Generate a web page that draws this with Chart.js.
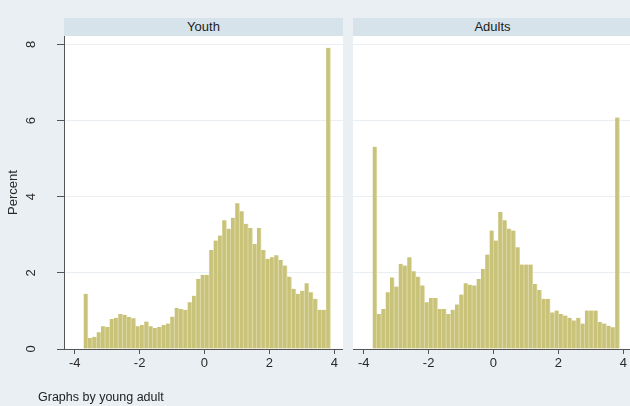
<!DOCTYPE html>
<html>
<head>
<meta charset="utf-8">
<script src="https://cdn.jsdelivr.net/npm/chart.js@4.4.1/dist/chart.umd.min.js"></script>
<style>
  html, body { margin: 0; padding: 0; }
  body {
    width: 630px; height: 406px; overflow: hidden; position: relative;
    background: #e9eff3;
    font-family: "Liberation Sans", Arial, sans-serif;
  }
  .strip {
    position: absolute; top: 18px; height: 18px; line-height: 18px;
    background: #d6e3ea; color: #1c1c1c; font-size: 13px; text-align: center;
  }
  canvas { position: absolute; top: 36px; }
  #youthChart { left: 0; }
  #adultChart { left: 353px; }
  .note {
    position: absolute; left: 38px; top: 390px; font-size: 12.5px;
    line-height: 15px; color: #222;
  }
</style>
</head>
<body>
<div class="strip" style="left:64px;width:279px">Youth</div>
<div class="strip" style="left:353px;width:279px">Adults</div>
<canvas id="youthChart" width="343" height="370"></canvas>
<canvas id="adultChart" width="279" height="370"></canvas>
<div class="note">Graphs by young adult</div>

<script>
// Histogram bins shared by both panels
const binStart = -3.725;
const binWidth = 0.1335;

// Percent of cases per bin, young people
const youthPct = [
  1.45, 0.29, 0.32, 0.44, 0.60, 0.58, 0.79, 0.82, 0.92, 0.90,
  0.84, 0.81, 0.60, 0.63, 0.72, 0.60, 0.55, 0.58, 0.63, 0.67,
  0.85, 1.08, 1.05, 1.03, 1.23, 1.40, 1.84, 1.95, 1.95, 2.60,
  2.85, 2.98, 3.38, 3.16, 3.45, 3.83, 3.62, 3.29, 3.18, 2.76,
  3.18, 2.60, 2.37, 2.41, 2.46, 2.34, 2.19, 1.90, 1.58, 1.45,
  1.53, 1.73, 1.49, 1.32, 1.03, 1.03, 7.91
];

// Percent of cases per bin, adults
const adultPct = [
  5.31, 0.92, 1.05, 1.49, 1.88, 1.64, 2.24, 2.19, 2.41, 2.04,
  1.90, 1.67, 1.23, 1.34, 1.34, 1.05, 1.05, 0.92, 1.03, 1.17,
  1.43, 1.73, 1.69, 1.67, 1.84, 2.10, 2.48, 3.11, 2.85, 3.60,
  3.38, 3.16, 3.11, 2.67, 2.22, 2.22, 2.22, 1.71, 1.55, 1.32,
  1.32, 0.96, 1.01, 0.92, 0.88, 0.82, 0.75, 0.82, 0.67, 1.01,
  1.01, 1.01, 0.71, 0.67, 0.61, 0.57, 6.08
];

const xTicks = [-4, -2, 0, 2, 4];
const yTicks = [0, 2, 4, 6, 8];
const xRange = [-4.33, 4.27];
const yRange = [0, 8.22];

const barFill = 'rgb(201,195,122)';
const barEdge = 'rgb(224,220,172)';
const gridColor = '#e8eef1';
const axisColor = '#555555';
const textColor = '#2a2a2a';
const fontFamily = '"Liberation Sans", Arial, sans-serif';

function toPoints(values) {
  return values.map((v, i) => ({ x: binStart + (i + 0.5) * binWidth, y: v }));
}

const plotBackground = {
  id: 'plotBackground',
  beforeDraw(chart) {
    const { ctx, chartArea: a } = chart;
    ctx.save();
    ctx.fillStyle = '#ffffff';
    ctx.fillRect(a.left, a.top, a.right - a.left, a.bottom - a.top);
    ctx.restore();
  }
};

function xScale() {
  return {
    type: 'linear',
    offset: false,
    min: xRange[0], max: xRange[1],
    afterBuildTicks: s => { s.ticks = xTicks.map(v => ({ value: v })); },
    afterFit: s => { s.height = 57; s.paddingLeft = 0; s.paddingRight = 0; },
    grid: { offset: false, drawOnChartArea: false, tickLength: 5, color: axisColor, tickColor: axisColor },
    border: { color: axisColor, width: 1 },
    ticks: { color: textColor, font: { family: fontFamily, size: 13 },
             padding: 2, maxRotation: 0, autoSkip: false }
  };
}

function makePanel(canvasId, values, withAxis) {
  const yScale = withAxis ? {
    min: yRange[0], max: yRange[1],
    afterBuildTicks: s => { s.ticks = yTicks.map(v => ({ value: v })); },
    afterFit: s => { s.width = 64; s.paddingTop = 0; s.paddingBottom = 0; },
    grid: { color: gridColor, tickColor: axisColor, tickLength: 7 },
    border: { color: axisColor, width: 1 },
    ticks: { color: textColor, font: { family: fontFamily, size: 13 },
             minRotation: 90, maxRotation: 90, crossAlign: 'center', padding: 22 },
    title: { display: true, text: 'Percent', color: textColor,
             font: { family: fontFamily, size: 13 },
             padding: { top: 6, bottom: 0 } }
  } : {
    min: yRange[0], max: yRange[1],
    afterBuildTicks: s => { s.ticks = yTicks.map(v => ({ value: v })); },
    afterFit: s => { s.width = 0; s.paddingTop = 0; s.paddingBottom = 0; },
    grid: { color: gridColor, drawTicks: false },
    border: { display: false },
    ticks: { display: false }
  };

  return new Chart(document.getElementById(canvasId), {
    type: 'bar',
    data: {
      datasets: [{
        data: toPoints(values),
        backgroundColor: barFill,
        borderColor: barEdge,
        borderWidth: { top: 0, right: 1, bottom: 0, left: 0 },
        borderSkipped: false,
        barPercentage: 1,
        categoryPercentage: 1
      }]
    },
    options: {
      responsive: false,
      animation: false,
      layout: { padding: 0 },
      plugins: { legend: { display: false }, tooltip: { enabled: false } },
      scales: { x: xScale(), y: yScale }
    },
    plugins: [plotBackground]
  });
}

makePanel('youthChart', youthPct, true);
makePanel('adultChart', adultPct, false);
</script>
</body>
</html>
